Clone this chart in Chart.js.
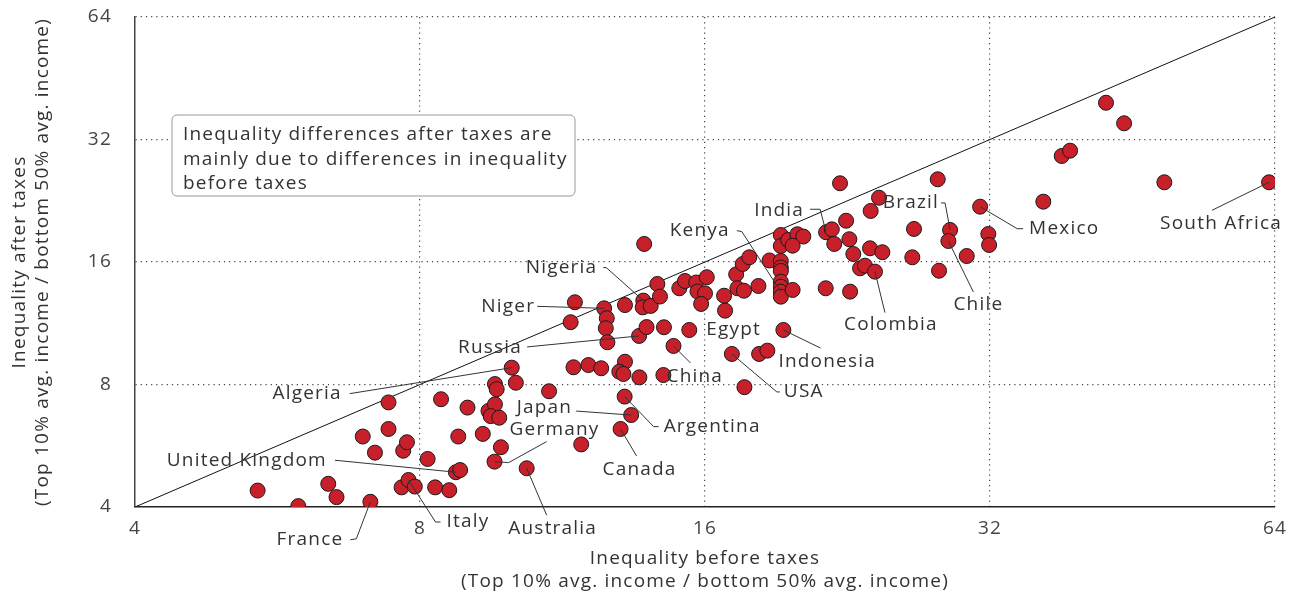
<!DOCTYPE html>
<html>
<head>
<meta charset="utf-8">
<script src="https://cdn.jsdelivr.net/npm/chart.js@4.4.0/dist/chart.umd.min.js"></script>
<style>
  html, body { margin: 0; padding: 0; background: #fff; }
  #wrap { width: 1297px; height: 595px; position: relative; }
</style>
</head>
<body>
<div id="wrap"><canvas id="chart" width="1297" height="595"></canvas></div>
<script>
// inequality before taxes (x) and after taxes (y), one entry per country
const beforeTax = [
  5.39, 5.95, 6.40, 6.53, 7.09, 6.96, 7.17, 7.41, 7.41, 7.68,
  7.75, 7.65, 7.78, 7.90, 8.15, 8.30, 8.59, 8.42, 8.78, 8.73,
  8.82, 8.98, 9.32, 9.45, 9.60, 9.50, 9.70, 9.60, 9.64, 10.10,
  9.74, 9.59, 10.37, 10.00, 10.95, 11.84, 11.62, 12.05, 12.43, 13.17,
  12.99, 13.12, 13.64, 14.46, 13.16, 13.37, 13.03, 11.66, 11.54, 12.52,
  12.60, 12.57, 12.62, 13.17, 13.77, 13.75, 14.02, 13.63, 13.88, 13.80,
  14.25, 14.34, 14.48, 14.82, 15.03, 15.24, 15.66, 16.07, 15.71, 16.00,
  15.85, 15.40, 16.76, 16.80, 17.26, 17.54, 17.82, 17.31, 17.59, 18.22,
  18.72, 19.24, 19.24, 19.24, 19.24, 19.24, 19.24, 19.24, 19.24, 19.24,
  19.59, 20.03, 20.32, 19.80, 19.80, 21.48, 21.78, 21.91, 21.46, 22.22,
  22.55, 22.73, 22.77, 22.95, 23.33, 23.61, 23.90, 23.94, 24.19, 24.43,
  24.63, 26.60, 26.49, 28.18, 28.27, 29.04, 28.92, 30.24, 31.24, 31.87,
  31.93, 36.43, 38.10, 38.88, 42.43, 44.34, 48.90, 63.08, 17.08, 18.25,
  18.62, 17.61, 19.36
];
const afterTax = [
  4.39, 4.02, 4.56, 4.23, 4.12, 5.96, 5.44, 7.23, 6.22, 5.50,
  5.77, 4.47, 4.66, 4.49, 5.25, 4.47, 4.40, 7.36, 5.96, 4.87,
  4.93, 7.02, 6.05, 6.89, 7.15, 6.69, 6.63, 8.02, 7.79, 8.08,
  5.61, 5.17, 4.98, 8.80, 7.70, 5.70, 8.82, 8.93, 8.77, 9.10,
  8.60, 8.49, 8.33, 8.44, 7.47, 6.73, 6.22, 12.74, 11.38, 12.31,
  11.64, 11.00, 10.16, 12.54, 12.86, 12.38, 12.48, 10.53, 11.07, 17.72,
  14.13, 13.16, 11.06, 9.95, 13.79, 14.37, 14.25, 14.68, 13.54, 13.40,
  12.62, 10.89, 13.22, 12.15, 14.92, 15.82, 16.43, 13.79, 13.60, 13.97,
  16.14, 18.64, 17.52, 16.09, 15.51, 15.21, 14.31, 13.91, 13.53, 13.15,
  18.12, 18.72, 18.48, 17.55, 13.66, 18.93, 19.25, 17.72, 13.79, 24.98,
  20.21, 18.20, 13.53, 16.74, 15.44, 15.67, 17.29, 21.36, 15.15, 23.02,
  16.91, 19.29, 16.43, 25.55, 15.23, 19.18, 18.02, 16.55, 21.88, 18.75,
  17.62, 22.51, 29.15, 30.04, 39.40, 35.07, 25.12, 25.12, 9.51, 9.51,
  9.69, 7.88, 10.89
];
const tickValues = [4, 8, 16, 32, 64];
const diagonal = [4, 64];
const xTitle = ['Inequality before taxes', '(Top 10% avg. income / bottom 50% avg. income)'];
const yTitle = ['Inequality after taxes', '(Top 10% avg. income / bottom 50% avg. income)'];
const noteLines = [
  'Inequality differences after taxes are',
  'mainly due to differences in inequality',
  'before taxes'
];

// annotated countries: index into the arrays, text offset and leader path (px from the point)
const countryLabels = [
  { name: 'France', i: 4, tx: -27, ty: 38, align: 'right', path: [[-14, 37], [-20, 38]] },
  { name: 'Italy', i: 12, tx: 38, ty: 42, align: 'left', path: [[27, 42], [32, 42]] },
  { name: 'United Kingdom', i: 19, tx: -129, ty: -12, align: 'right', path: [[-121, -12]] },
  { name: 'Algeria', i: 33, tx: -170, ty: 26, align: 'right', path: [[-162, 26]] },
  { name: 'Germany', i: 31, tx: 60, ty: -32, align: 'center', path: [[14, 1], [52, -20]] },
  { name: 'Australia', i: 32, tx: 26, ty: 60, align: 'center', path: [[20, 47]] },
  { name: 'Japan', i: 45, tx: -59, ty: -7, align: 'right', path: [[-55, -4]] },
  { name: 'Canada', i: 46, tx: 19, ty: 41, align: 'center', path: [[16, 27]] },
  { name: 'Argentina', i: 44, tx: 39, ty: 30, align: 'left', path: [[29, 30], [34, 30]] },
  { name: 'China', i: 63, tx: -7, ty: 31, align: 'left', path: [[17, 17]] },
  { name: 'Egypt', i: 71, tx: 17, ty: 0, align: 'left', path: [] },
  { name: 'USA', i: 128, tx: 52, ty: 38, align: 'left', path: [[45, 38], [48, 38]] },
  { name: 'Indonesia', i: 132, tx: -5, ty: 32, align: 'left', path: [[37, 18]] },
  { name: 'Kenya', i: 88, tx: -51, ty: -61, align: 'right', path: [[-39, -60], [-44, -61]] },
  { name: 'India', i: 95, tx: -22, ty: -22, align: 'right', path: [[-6, -23], [-16, -23]] },
  { name: 'Nigeria', i: 54, tx: -46, ty: -33, align: 'right', path: [[-37, -33], [-40, -33]] },
  { name: 'Niger', i: 49, tx: -69, ty: -2, align: 'right', path: [[-67, -2]] },
  { name: 'Russia', i: 57, tx: -117, ty: 12, align: 'right', path: [[-112, 11]] },
  { name: 'Colombia', i: 108, tx: 16, ty: 53, align: 'center', path: [[10, 41]] },
  { name: 'Chile', i: 116, tx: 30, ty: 64, align: 'center', path: [[25, 51]] },
  { name: 'Brazil', i: 115, tx: -11, ty: -27, align: 'right', path: [[-5, -27], [-9, -27]] },
  { name: 'Mexico', i: 118, tx: 49, ty: 22, align: 'left', path: [[37, 22], [43, 22]] },
  { name: 'South Africa', i: 127, tx: -48, ty: 41, align: 'center', path: [[-57, 28]] }
];

const FONT = '"Open Sans", sans-serif';
const TEXT = '#333';
Chart.defaults.font.family = FONT;
Chart.defaults.color = TEXT;

const points = beforeTax.map((x, i) => ({ x: x, y: afterTax[i] }));

// the source font is wider than Open Sans, so open the letters up a bit
const spacingPlugin = {
  id: 'spacing',
  beforeDraw(chart) { chart.ctx.letterSpacing = '1.2px'; }
};

const notePlugin = {
  id: 'note',
  beforeDatasetsDraw(chart) {
    const { ctx, chartArea } = chart;
    const left = chartArea.left + 37, top = chartArea.top + 98;
    ctx.save();
    ctx.beginPath();
    ctx.roundRect(left, top, 403, 81, 5);
    ctx.fillStyle = '#fff';
    ctx.fill();
    ctx.strokeStyle = '#999';
    ctx.lineWidth = 1;
    ctx.stroke();
    ctx.fillStyle = TEXT;
    ctx.font = '19px ' + FONT;
    ctx.textBaseline = 'middle';
    ctx.textAlign = 'left';
    noteLines.forEach((t, k) => ctx.fillText(t, left + 11, top + 20 + k * 24.5));
    ctx.restore();
  }
};

const labelPlugin = {
  id: 'countryLabels',
  afterDatasetsDraw(chart) {
    const ctx = chart.ctx;
    const meta = chart.getDatasetMeta(0);
    ctx.save();
    ctx.strokeStyle = '#333';
    ctx.lineWidth = 1;
    ctx.fillStyle = TEXT;
    ctx.font = '19px ' + FONT;
    ctx.textBaseline = 'middle';
    countryLabels.forEach(l => {
      const p = meta.data[l.i];
      if (l.path.length) {
        ctx.beginPath();
        ctx.moveTo(p.x, p.y);
        l.path.forEach(([dx, dy]) => ctx.lineTo(p.x + dx, p.y + dy));
        ctx.stroke();
      }
      ctx.textAlign = l.align;
      ctx.fillText(l.name, p.x + l.tx, p.y + l.ty);
    });
    ctx.restore();
  }
};

const gridOpts = {
  color: c => (c.tick && c.tick.value === 4) ? 'rgba(0,0,0,0)' : '#444',
  lineWidth: 1.2,
  drawTicks: false
};

new Chart(document.getElementById('chart'), {
  type: 'scatter',
  data: {
    datasets: [
      {
        data: points,
        backgroundColor: '#c8202b',
        borderColor: '#1a1a1a',
        borderWidth: 1,
        pointRadius: 7.5,
        order: 0
      },
      {
        type: 'line',
        data: diagonal.map(v => ({ x: v, y: v })),
        borderColor: '#111',
        borderWidth: 1,
        pointRadius: 0,
        order: 1
      }
    ]
  },
  options: {
    responsive: false,
    animation: false,
    layout: { padding: { top: 17, right: 22, left: 0, bottom: 0 } },
    plugins: { legend: { display: false }, tooltip: { enabled: false } },
    scales: {
      x: {
        type: 'logarithmic',
        min: 4,
        max: 64,
        afterBuildTicks: s => { s.ticks = tickValues.map(v => ({ value: v })); },
        afterFit: s => { s.height = 88; s.paddingLeft = 0; s.paddingRight = 0; },
        grid: gridOpts,
        border: { display: true, color: '#222', width: 1.5, dash: [1.2, 4] },
        ticks: { callback: v => String(v), padding: 10, color: '#444', font: { size: 19 }, maxRotation: 0 },
        title: { display: true, text: xTitle, color: TEXT, font: { size: 19, lineHeight: '23px' }, padding: { top: 0, bottom: 1.5 } }
      },
      y: {
        type: 'logarithmic',
        min: 4,
        max: 64,
        afterBuildTicks: s => { s.ticks = tickValues.map(v => ({ value: v })); },
        afterFit: s => { s.width = 135; s.paddingTop = 0; s.paddingBottom = 0; },
        grid: gridOpts,
        border: { display: true, color: '#444', width: 1.5, dash: [1.2, 4] },
        ticks: { callback: v => String(v), padding: 23, color: '#444', font: { size: 19 } },
        title: { display: true, text: yTitle, color: TEXT, font: { size: 19, lineHeight: '23px' }, padding: { top: 8, bottom: 0 } }
      }
    }
  },
  plugins: [spacingPlugin, notePlugin, labelPlugin]
});
</script>
</body>
</html>
